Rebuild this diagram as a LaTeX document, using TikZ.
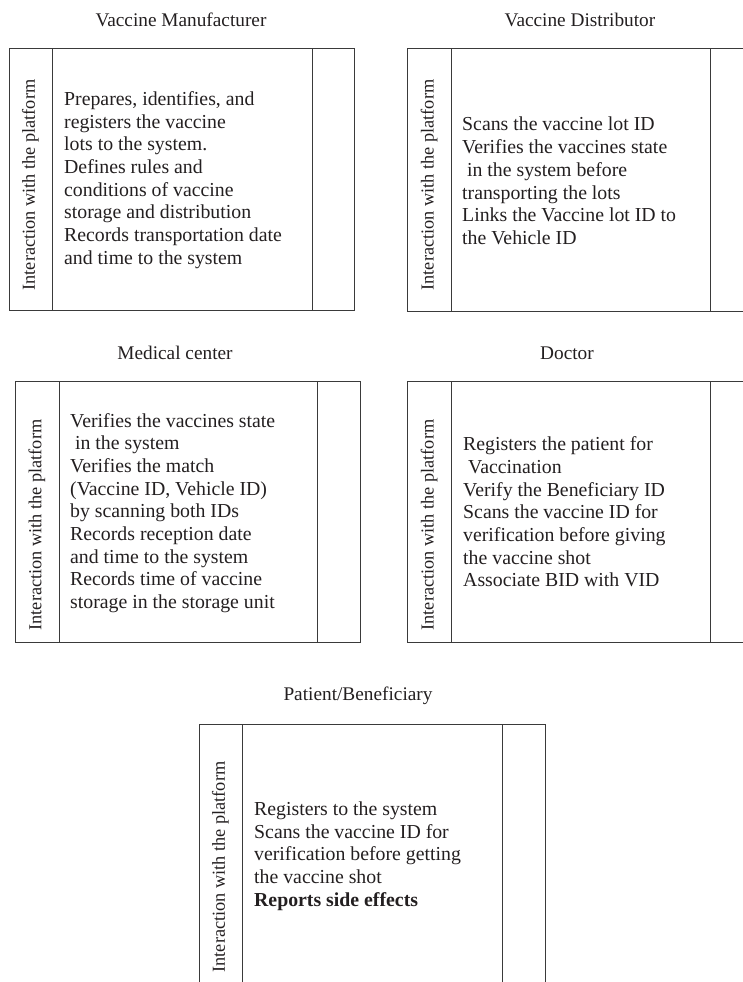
\documentclass[tikz,border=0pt]{standalone}
\usepackage{fontspec}
\setmainfont{Liberation Serif}
\definecolor{linec}{HTML}{3A3A3A}
\definecolor{txt}{HTML}{231F20}
\begin{document}
\begin{tikzpicture}[x=1pt,y=-1pt,
  frame/.style={draw=linec,line width=1pt},
  title/.style={font=\fontsize{19.3}{22}\selectfont,text=txt,inner sep=0pt},
  side/.style={rotate=90,font=\fontsize{18.3}{22}\selectfont,text=txt,inner sep=0pt},
  body/.style={anchor=west,align=left,font=\fontsize{19.8}{22.7}\selectfont,text=txt,inner sep=0pt}]
\useasboundingbox (0,0) rectangle (743,982);

% Vaccine Manufacturer
\node[title] (t1) at (181,20) {Vaccine Manufacturer};
\draw[frame] (9,49) rectangle (354,310);
\draw[frame] (52,49) -- (52,310) (312,49) -- (312,310);
\node[side] (s1) at (30.5,185) {Interaction with the platform};
\node[body] (b1) at (64,180) {Prepares, identifies, and\\registers the vaccine\\lots to the system.\\Defines rules and\\conditions of vaccine\\storage and distribution\\Records transportation date\\and time to the system};

% Vaccine Distributor
\node[title] (t2) at (580,20) {Vaccine Distributor};
\draw[frame] (743,49) -- (407,49) -- (407,311) -- (743,311);
\draw[frame] (451,49) -- (451,311) (710,49) -- (710,311);
\node[side] (s2) at (429,185) {Interaction with the platform};
\node[body] (b2) at (462,181) {Scans the vaccine lot ID\\Verifies the vaccines state\\\ in the system before\\transporting the lots\\Links the Vaccine lot ID to\\the Vehicle ID};

% Medical center
\node[title] (t3) at (175,353) {Medical center};
\draw[frame] (15,381) rectangle (360,642);
\draw[frame] (59,381) -- (59,642) (317,381) -- (317,642);
\node[side] (s3) at (37,525) {Interaction with the platform};
\node[body] (b3) at (70,513) {Verifies the vaccines state\\\ in the system\\Verifies the match\\(Vaccine ID, Vehicle ID)\\by scanning both IDs\\Records reception date\\and time to the system\\Records time of vaccine\\storage in the storage unit};

% Doctor
\node[title] (t4) at (567,353) {Doctor};
\draw[frame] (743,381) -- (407,381) -- (407,642) -- (743,642);
\draw[frame] (451,381) -- (451,642) (710,381) -- (710,642);
\node[side] (s4) at (429,525) {Interaction with the platform};
\node[body] (b4) at (463,512) {Registers the patient for\\\ Vaccination\\Verify the Beneficiary ID\\Scans the vaccine ID for\\verification before giving\\the vaccine shot\\Associate BID with VID};

% Patient/Beneficiary
\node[title] (t5) at (358,696) {Patient/Beneficiary};
\draw[frame] (199,982) -- (199,724) -- (545,724) -- (545,982);
\draw[frame] (242,724) -- (242,982) (502,724) -- (502,982);
\node[side] (s5) at (220.5,867) {Interaction with the platform};
\node[body] (b5) at (254,856) {Registers to the system\\Scans the vaccine ID for\\verification before getting\\the vaccine shot\\\textbf{Reports side effects}};
\end{tikzpicture}
\end{document}
